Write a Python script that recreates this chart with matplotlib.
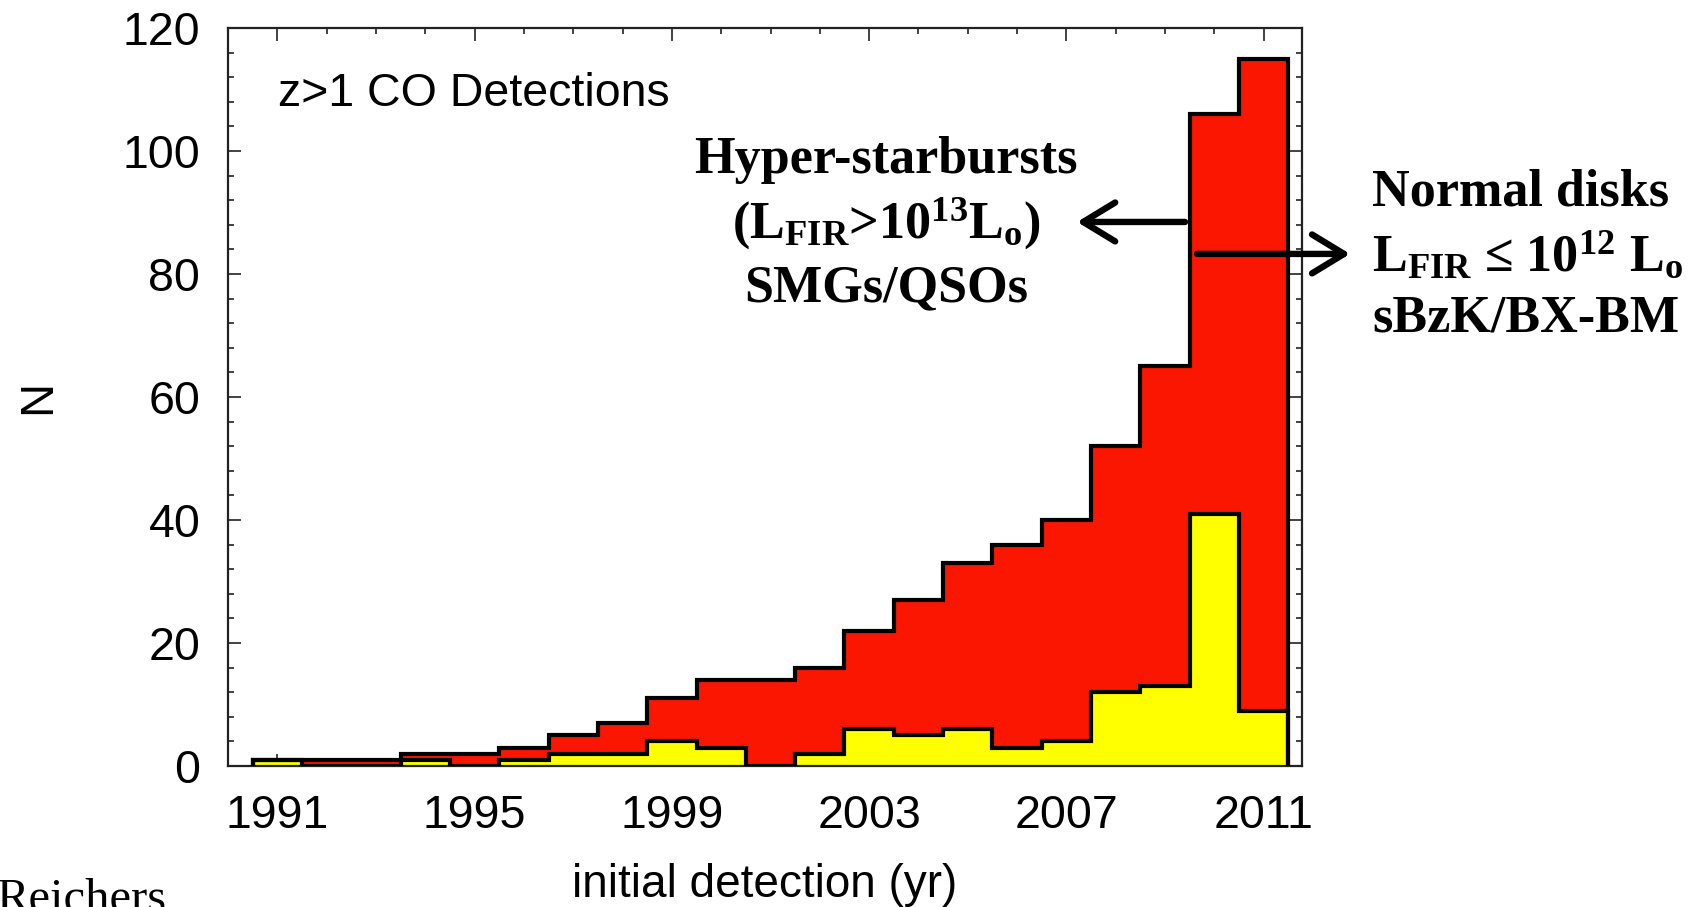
import numpy as np
import matplotlib
matplotlib.use("Agg")
import matplotlib.pyplot as plt
from matplotlib.ticker import MultipleLocator, FixedLocator

# Number of z>1 CO detections per year of first detection
years = [1991, 1992, 1993, 1994, 1995, 1996, 1997, 1998, 1999, 2000, 2001,
         2002, 2003, 2004, 2005, 2006, 2007, 2008, 2009, 2010, 2011]
all_detections = [1, 1, 1, 2, 2, 3, 5, 7, 11, 14, 14,
                  16, 22, 27, 33, 36, 40, 52, 65, 106, 115]
normal_disks = [1, 0, 0, 1, 0, 1, 2, 2, 4, 3, 0,
                2, 6, 5, 6, 3, 4, 12, 13, 41, 9]

year_ticks = [1991, 1995, 1999, 2003, 2007, 2011]
n_ticks = [0, 20, 40, 60, 80, 100, 120]

SANS = "Liberation Sans"
SERIF = "Liberation Serif"
RED = "#FA1600"
YELLOW = "#FFFF00"

plt.rcParams["mathtext.fontset"] = "custom"
plt.rcParams["mathtext.rm"] = "Liberation Serif:bold"
plt.rcParams["mathtext.bf"] = "Liberation Serif:bold"
plt.rcParams["mathtext.it"] = "Liberation Serif:bold:italic"

fig = plt.figure(figsize=(16.97, 9.07), dpi=100)
ax = fig.add_axes([0.1344, 0.1555, 0.6329, 0.8137])

yr = np.asarray(years, dtype=float)
edges = np.append(yr - 0.5, yr[-1] + 0.5)

# filled histograms, then black step outlines
ax.stairs(all_detections, edges, baseline=0, fill=True, color=RED, zorder=1)
ax.stairs(normal_disks, edges, baseline=0, fill=True, color=YELLOW, zorder=2)
ax.stairs(all_detections, edges, baseline=0, color="black", lw=3.0, zorder=3)
ax.stairs(normal_disks, edges, baseline=0, color="black", lw=3.0, zorder=3)

ax.set_xlim(1990.0, 2011.78)
ax.set_ylim(0, 120)
ax.set_axisbelow(True)

ax.xaxis.set_major_locator(FixedLocator(year_ticks))
ax.xaxis.set_minor_locator(MultipleLocator(1))
ax.yaxis.set_major_locator(FixedLocator(n_ticks))
ax.yaxis.set_minor_locator(MultipleLocator(4))
ax.set_xticklabels([str(t) for t in year_ticks])
ax.set_yticklabels([str(t) for t in n_ticks])

ax.tick_params(which="both", direction="in", top=True, right=True,
               color="#222222", width=1.2)
ax.tick_params(which="major", length=9, labelsize=33.5, pad=20)
ax.tick_params(which="minor", length=4.5)
for lab in ax.get_xticklabels() + ax.get_yticklabels():
    lab.set_fontfamily(SANS)

for sp in ax.spines.values():
    sp.set_linewidth(1.6)
    sp.set_color("#222222")

ax.set_xlabel("initial detection (yr)", fontsize=33, fontfamily=SANS, va="center")
ax.xaxis.set_label_coords(0.5, -0.161)
ax.set_ylabel("N", fontsize=34, fontfamily=SANS, ha="center", va="center")
ax.yaxis.set_label_coords(-0.177, 0.5)

ax.text(0.0466, 0.8943, "z>1 CO Detections", transform=ax.transAxes,
        fontsize=33.5, fontfamily=SANS, ha="left", va="baseline")

# population labels
bold = dict(fontsize=37.5, fontfamily=SERIF, fontweight="bold",
            va="baseline", transform=ax.transAxes, clip_on=False, zorder=6)
hx = 0.6127
ax.text(hx, 0.8035, "Hyper-starbursts", ha="center", **bold)
ax.text(hx, 0.7154, r"(L$_{\mathrm{FIR}}$>10$^{13}$L$_{\mathrm{o}}$)", ha="center", **bold)
ax.text(hx, 0.6301, "SMGs/QSOs", ha="center", **bold)

nx = 1.0652
ax.text(nx, 0.7593, "Normal disks", ha="left", **bold)
ax.text(nx, 0.6713, r"L$_{\mathrm{FIR}}$ ≤ 10$^{12}$ L$_{\mathrm{o}}$", ha="left", **bold)
ax.text(nx, 0.5881, "sBzK/BX-BM", ha="left", **bold)

arrow = dict(arrowstyle="->,head_length=1.15,head_width=0.7", lw=4.6,
             color="black", mutation_scale=20, shrinkA=0, shrinkB=0,
             capstyle="round", joinstyle="round")
ax.annotate("", xy=(0.7905, 0.7371), xytext=(0.891, 0.7371),
            xycoords="axes fraction", textcoords="axes fraction",
            arrowprops=arrow, zorder=7, annotation_clip=False)
ax.annotate("", xy=(1.0447, 0.6938), xytext=(0.9022, 0.6938),
            xycoords="axes fraction", textcoords="axes fraction",
            arrowprops=arrow, zorder=7, annotation_clip=False)

fig.text(167 / 1697, 1 - 912 / 907, "Reichers", fontsize=35, fontfamily=SERIF,
         ha="right", va="baseline")

fig.savefig("out.png", dpi=100)
